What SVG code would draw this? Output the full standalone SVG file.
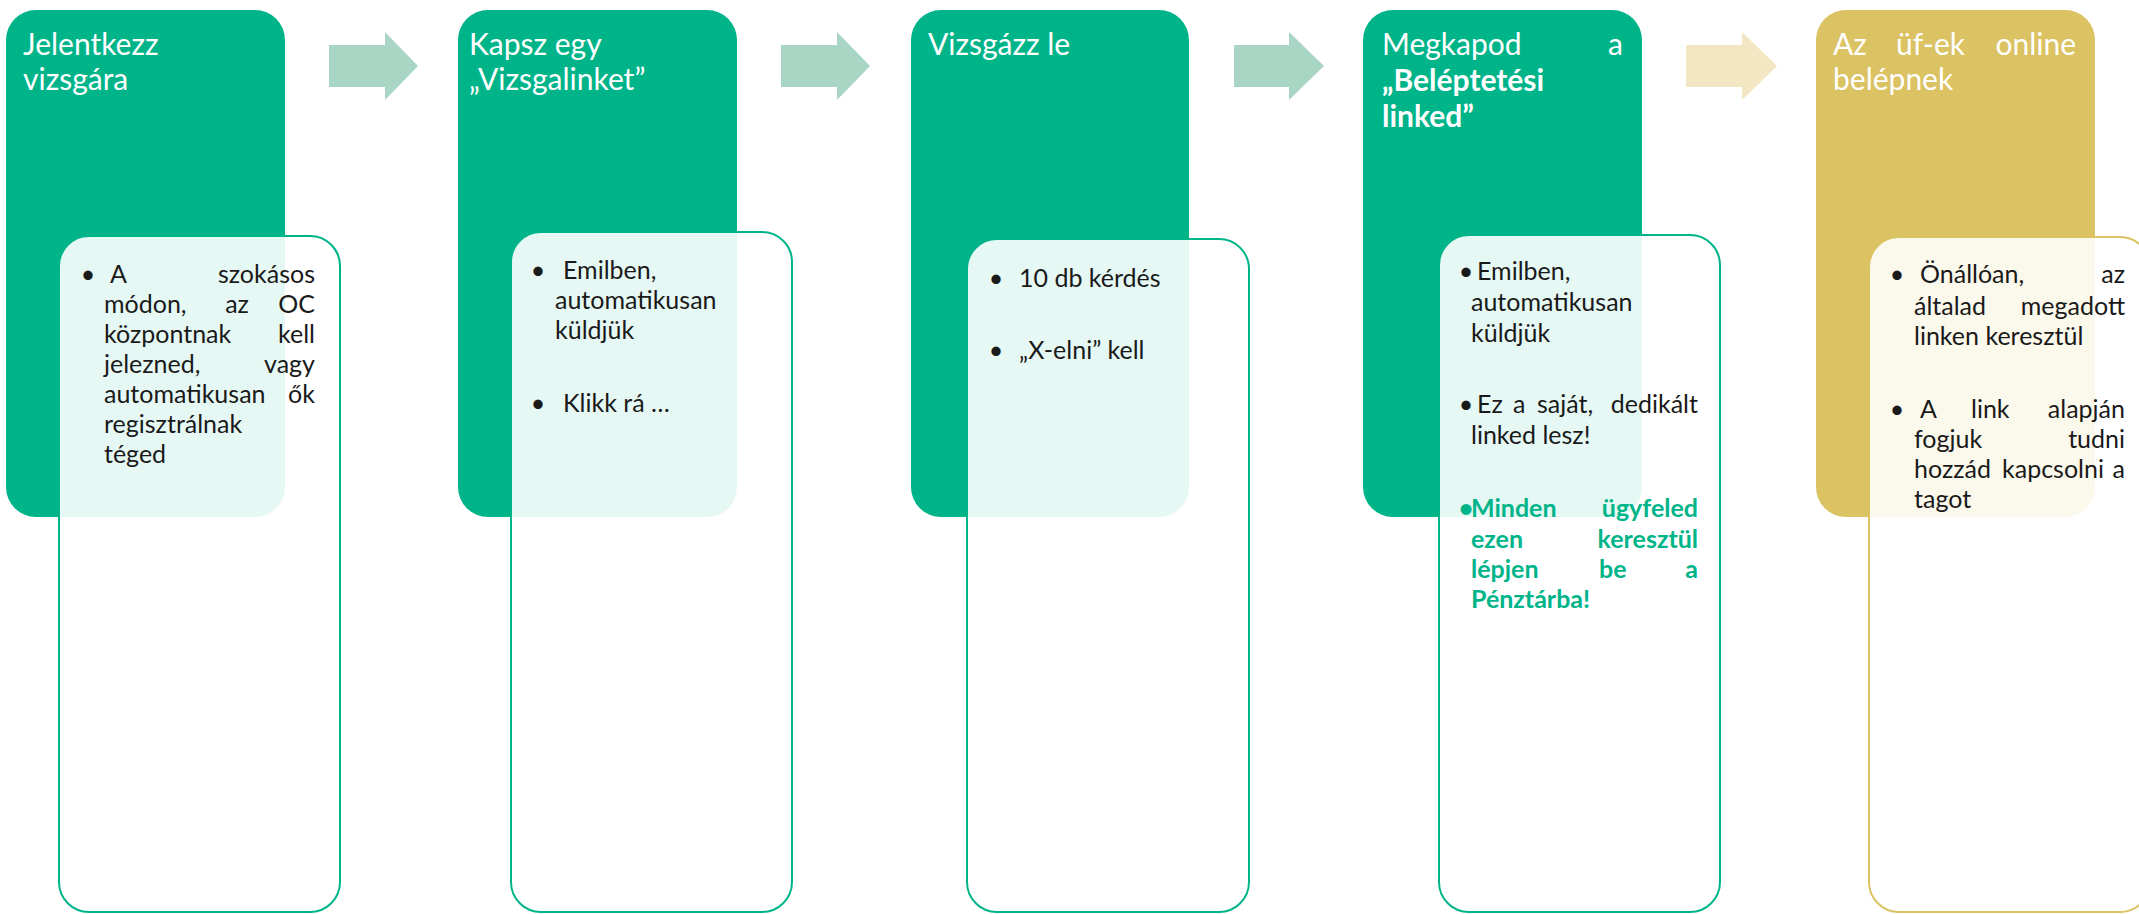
<svg xmlns="http://www.w3.org/2000/svg" width="2139" height="914" viewBox="0 0 2139 914">
<style>
.dark{fill:#00B48A}
.gold{fill:#DBC262}
.card{fill:#fff;fill-opacity:0.9;stroke:#00B48A;stroke-width:2}
.cardg{fill:#fff;fill-opacity:0.88;stroke:#DBC262;stroke-width:2}
.t{font-family:Lato,"Liberation Sans",sans-serif;font-size:30px;fill:#fff}
.tb{font-weight:bold}
.b{font-family:Lato,"Liberation Sans",sans-serif;font-size:25px;fill:#1a1a1a}
.e{text-anchor:end}
.m{text-anchor:middle}
.g{fill:#00B48A;font-weight:bold}
.arr{fill:#A9D5C5}
.arr2{fill:#F3E6C2}
</style>
<rect width="2139" height="914" fill="#fff"/>
<g id="connectors">
<path class="arr" d="M329,45 H385 V32 L418,66 L385,100 V87 H329 Z"/>
<path class="arr" d="M781,45 H837 V32 L870,66 L837,100 V87 H781 Z"/>
<path class="arr" d="M1234,45 H1289 V32 L1324,66 L1289,100 V87 H1234 Z"/>
<path class="arr2" d="M1686,45 H1742 V32 L1777,66 L1742,100 V87 H1686 Z"/>
</g>
<g id="step1">
<rect class="dark" x="6" y="10" width="279" height="507" rx="30"/>
<text class="t" x="23" y="55">Jelentkezz</text>
<text class="t" x="23" y="90">vizsgára</text>
<rect class="card" x="59" y="236" width="281" height="676" rx="30"/>
<text class="b m" x="88" y="283">•</text>
<text class="b" x="110" y="283">A</text>
<text class="b e" x="315" y="283">szokásos</text>
<text class="b" x="104" y="313">módon,</text>
<text class="b m" x="237" y="313">az</text>
<text class="b e" x="315" y="313">OC</text>
<text class="b" x="104" y="343">központnak</text>
<text class="b e" x="315" y="343">kell</text>
<text class="b" x="104" y="373">jelezned,</text>
<text class="b e" x="315" y="373">vagy</text>
<text class="b" x="104" y="403">automatikusan</text>
<text class="b e" x="315" y="403">ők</text>
<text class="b" x="104" y="433">regisztrálnak</text>
<text class="b" x="104" y="463">téged</text>
</g>
<g id="step2">
<rect class="dark" x="458" y="10" width="279" height="507" rx="30"/>
<text class="t" x="469" y="55">Kapsz egy</text>
<text class="t" x="469" y="90">„Vizsgalinket”</text>
<rect class="card" x="511" y="232" width="281" height="680" rx="30"/>
<text class="b m" x="538" y="279">•</text>
<text class="b" x="563" y="279">Emilben,</text>
<text class="b" x="555" y="309">automatikusan</text>
<text class="b" x="555" y="339">küldjük</text>
<text class="b m" x="538" y="412">•</text>
<text class="b" x="563" y="412">Klikk rá …</text>
</g>
<g id="step3">
<rect class="dark" x="911" y="10" width="278" height="507" rx="30"/>
<text class="t" x="928" y="55">Vizsgázz le</text>
<rect class="card" x="967" y="239" width="282" height="673" rx="30"/>
<text class="b m" x="996" y="287">•</text>
<text class="b" x="1019" y="287">10 db kérdés</text>
<text class="b m" x="996" y="359">•</text>
<text class="b" x="1019" y="359">„X-elni” kell</text>
</g>
<g id="step4">
<rect class="dark" x="1363" y="10" width="279" height="507" rx="30"/>
<text class="t" x="1382" y="55">Megkapod</text>
<text class="t e" x="1623" y="55">a</text>
<text class="t tb" x="1382" y="91">„Beléptetési</text>
<text class="t tb" x="1382" y="127">linked”</text>
<rect class="card" x="1439" y="235" width="281" height="677" rx="30"/>
<text class="b m" x="1466" y="280">•</text>
<text class="b" x="1477" y="280">Emilben,</text>
<text class="b" x="1471" y="311">automatikusan</text>
<text class="b" x="1471" y="342">küldjük</text>
<text class="b m" x="1466" y="413">•</text>
<text class="b" x="1477" y="413">Ez</text>
<text class="b" x="1513" y="413">a</text>
<text class="b" x="1537" y="413">saját,</text>
<text class="b e" x="1698" y="413">dedikált</text>
<text class="b" x="1471" y="444">linked lesz!</text>
<text class="b g m" x="1466" y="517">•</text>
<text class="b g" x="1471" y="517">Minden</text>
<text class="b g e" x="1698" y="517">ügyfeled</text>
<text class="b g" x="1471" y="548">ezen</text>
<text class="b g e" x="1698" y="548">keresztül</text>
<text class="b g" x="1471" y="578">lépjen</text>
<text class="b g" x="1599" y="578">be</text>
<text class="b g e" x="1698" y="578">a</text>
<text class="b g" x="1471" y="608">Pénztárba!</text>
</g>
<g id="step5">
<rect class="gold" x="1816" y="10" width="279" height="507" rx="30"/>
<text class="t" x="1833" y="55">Az</text>
<text class="t" x="1896" y="55">üf-ek</text>
<text class="t e" x="2076" y="55">online</text>
<text class="t" x="1833" y="90">belépnek</text>
<rect class="cardg" x="1869" y="237" width="281" height="675" rx="30"/>
<text class="b m" x="1897" y="283">•</text>
<text class="b" x="1920" y="283">Önállóan,</text>
<text class="b e" x="2125" y="283">az</text>
<text class="b" x="1914" y="315">általad</text>
<text class="b e" x="2125" y="315">megadott</text>
<text class="b" x="1914" y="345">linken keresztül</text>
<text class="b m" x="1897" y="418">•</text>
<text class="b" x="1920" y="418">A</text>
<text class="b" x="1971" y="418">link</text>
<text class="b e" x="2125" y="418">alapján</text>
<text class="b" x="1914" y="448">fogjuk</text>
<text class="b e" x="2125" y="448">tudni</text>
<text class="b" x="1914" y="478">hozzád</text>
<text class="b" x="2002" y="478">kapcsolni</text>
<text class="b e" x="2125" y="478">a</text>
<text class="b" x="1914" y="508">tagot</text>
</g>
</svg>
